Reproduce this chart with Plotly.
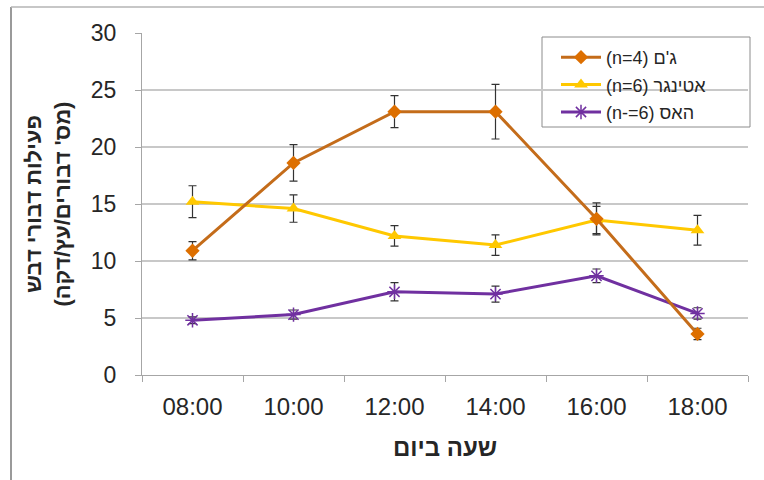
import plotly.graph_objects as go

# Hour of day (categories)
hours = ["08:00", "10:00", "12:00", "14:00", "16:00", "18:00"]

# Honey bee activity (bees / tree / minute) per cultivar, with error bars
gem_vals = [10.9, 18.6, 23.1, 23.1, 13.7, 3.6]
gem_err = [0.8, 1.6, 1.4, 2.4, 1.4, 0.5]

ettinger_vals = [15.2, 14.6, 12.2, 11.4, 13.6, 12.7]
ettinger_err = [1.4, 1.2, 0.9, 0.9, 1.2, 1.3]

hass_vals = [4.8, 5.3, 7.3, 7.1, 8.7, 5.4]
hass_err = [0.3, 0.4, 0.8, 0.7, 0.6, 0.5]

series_names = ["(n=4) ג'ם", "(n=6) אטינגר", "(n-=6) האס"]

y_ticks = [0, 5, 10, 15, 20, 25, 30]

FONT = "Liberation Sans, Arial, sans-serif"
TEXT = "#262626"
ERR_COLOR = "#333333"

# plot area in pixels, used to place the decorative frame and legend box
L, R, T, B = 142, 748, 33, 375
W, H = R - L, B - T


def px_x(x):
    return (x - L) / W


def px_y(y):
    return (B - y) / H


fig = go.Figure()

# Drawn bottom-up so the orange line sits on top
fig.add_trace(go.Scatter(
    x=hours, y=hass_vals, name=series_names[2], mode="lines+markers",
    line=dict(color="#7030A0", width=3),
    marker=dict(symbol="asterisk-open", size=12, color="#7030A0",
                line=dict(color="#7030A0", width=1.5)),
    error_y=dict(type="data", array=hass_err, visible=True,
                 color=ERR_COLOR, thickness=1.2, width=4),
    legendrank=3, legendgroup="c",
))
fig.add_trace(go.Scatter(
    x=hours, y=ettinger_vals, name=series_names[1], mode="lines+markers",
    line=dict(color="#FFC800", width=3),
    marker=dict(symbol="triangle-up", size=12, color="#FFC800"),
    error_y=dict(type="data", array=ettinger_err, visible=True,
                 color=ERR_COLOR, thickness=1.2, width=4),
    legendrank=2, legendgroup="b",
))
fig.add_trace(go.Scatter(
    x=hours, y=gem_vals, name=series_names[0], mode="lines+markers",
    line=dict(color="#C46C1A", width=3),
    marker=dict(symbol="diamond", size=11, color="#DD6F00"),
    error_y=dict(type="data", array=gem_err, visible=True,
                 color=ERR_COLOR, thickness=1.2, width=4),
    legendrank=1, legendgroup="a",
))

fig.update_layout(
    width=764, height=480,
    margin=dict(l=L, r=764 - R, t=T, b=480 - B),
    paper_bgcolor="white", plot_bgcolor="white",
    font=dict(family=FONT, color=TEXT),
    showlegend=True,
    legend=dict(
        x=px_x(556), y=px_y(39), xanchor="left", yanchor="top",
        bgcolor="rgba(0,0,0,0)", borderwidth=0,
        font=dict(size=18, family=FONT, color=TEXT),
        itemwidth=40, tracegroupgap=1,
    ),
    xaxis=dict(
        type="category", categoryorder="array", categoryarray=hours,
        range=[-0.5, len(hours) - 0.5],
        showgrid=False, showline=True, linecolor="#a6a6a6", linewidth=1,
        ticks="outside", tickson="boundaries", ticklen=6, tickcolor="#a6a6a6",
        ticklabelstandoff=10,
        tickfont=dict(size=24, family=FONT, color=TEXT),
        title=dict(text="<b>שעה ביום</b>", font=dict(size=24, family=FONT, color=TEXT),
                   standoff=20),
    ),
    yaxis=dict(
        range=[0, 30], tickvals=y_ticks, ticktext=[str(v) for v in y_ticks],
        showgrid=True, gridcolor="#c8c8c8", gridwidth=1.5,
        showline=True, linecolor="#a6a6a6", linewidth=1,
        ticks="outside", ticklen=6, tickcolor="#a6a6a6",
        ticklabelstandoff=14,
        tickfont=dict(size=23, family=FONT, color=TEXT),
        zeroline=False,
        title=dict(text="<b>פעילות דבורי דבש<br>(מס' דבורים/עץ/דקה)</b>",
                   font=dict(size=22, family=FONT, color=TEXT), standoff=14),
    ),
    shapes=[
        # outer chart frame (left and top edges)
        dict(type="line", xref="paper", yref="paper",
             x0=px_x(11), x1=px_x(11), y0=px_y(7), y1=px_y(480),
             line=dict(color="#9a9a9a", width=2)),
        dict(type="line", xref="paper", yref="paper",
             x0=px_x(11), x1=px_x(764), y0=px_y(7), y1=px_y(7),
             line=dict(color="#b4b4b4", width=1.5)),
        # legend box
        dict(type="rect", xref="paper", yref="paper",
             x0=px_x(542), x1=px_x(750), y0=px_y(37), y1=px_y(127),
             line=dict(color="#8c8c8c", width=1), fillcolor="white", layer="below"),
    ],
)

fig.write_html("out.html")
